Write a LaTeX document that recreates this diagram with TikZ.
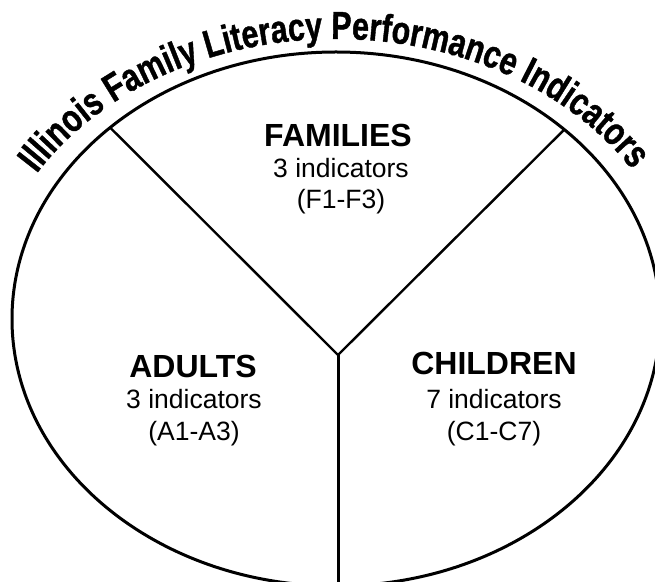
\documentclass[tikz,border=0pt]{standalone}
\usepackage{fontspec}
\setmainfont{Liberation Sans}
\newfontfamily\titlefont[FakeStretch=0.78,FakeBold=1]{Liberation Sans Bold}
\usetikzlibrary{calc,decorations.text}
\begin{document}
\begin{tikzpicture}[x=1pt,y=1pt,
  rim/.style={line width=3pt},
  divider/.style={line width=2.4pt},
  stem/.style={line width=3pt},
  head/.style={anchor=base,inner sep=0pt,font=\fontsize{32}{35}\selectfont\bfseries},
  sub/.style={anchor=base,inner sep=0pt,font=\fontsize{26.5}{30}\selectfont}]
\useasboundingbox (0,0) rectangle (655,581);
\clip (0,0) rectangle (655,581);
\coordinate (C) at (336,262);
\draw[rim] (C) ellipse [x radius=324, y radius=267];
\coordinate (J) at (338,226);
\coordinate (UL) at ($(C)+(134.2:324 and 267)$);
\coordinate (UR) at ($(C)+(45.2:324 and 267)$);
\coordinate (B) at (338,-10);
\draw[divider] (J) -- (UL);
\draw[divider] (J) -- (UR);
\draw[stem] (J) -- (B);
\path[decorate,decoration={text along path,text align=center,
  text={|\titlefont\fontsize{39}{40}\selectfont|Illinois Family Literacy Performance Indicators}}]
  ($(C)+(168:350 and 280)$) arc[start angle=168,end angle=13,x radius=350,y radius=280];
\node[head] (fam) at (338,434) {FAMILIES};
\node[sub] (famn) at (341,403) {3 indicators};
\node[sub] (famr) at (341,372) {(F1-F3)};
\node[head] (adu) at (193,204) {ADULTS};
\node[sub] (adun) at (194,172) {3 indicators};
\node[sub] (adur) at (194,141) {(A1-A3)};
\node[head] (chi) at (494,206) {CHILDREN};
\node[sub] (chin) at (494,173) {7 indicators};
\node[sub] (chir) at (494,141) {(C1-C7)};
\end{tikzpicture}
\end{document}
